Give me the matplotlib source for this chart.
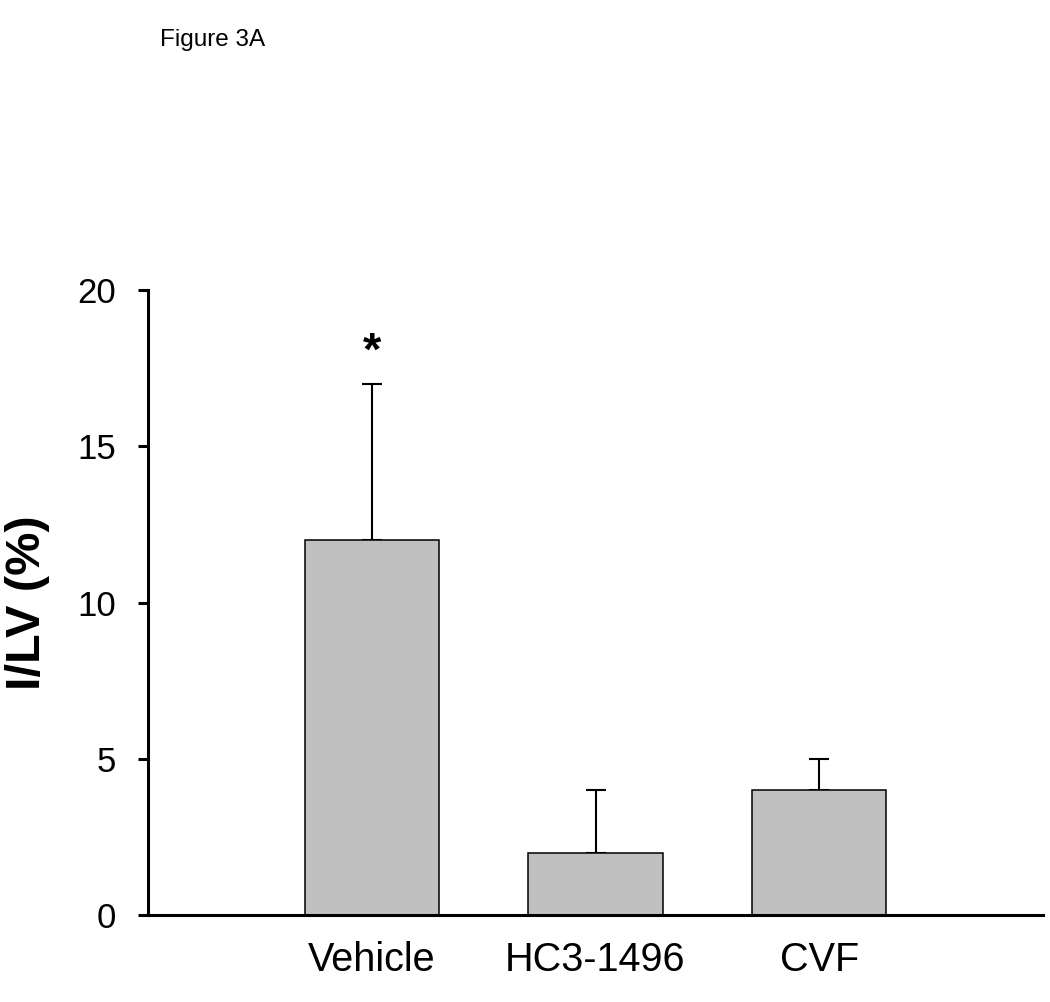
import matplotlib
matplotlib.use("Agg")
import matplotlib.pyplot as plt

plt.rcParams['font.family'] = ['Liberation Sans', 'DejaVu Sans']

categories = ["Vehicle", "HC3-1496", "CVF"]
means = [12, 2, 4]
sem_upper = [5, 2, 1]
yticks = [0, 5, 10, 15, 20]
star_label = "*"
star_value = 18.0

fig = plt.figure(figsize=(10.5, 10.02), dpi=100)
ax = fig.add_axes([148/1050, 87/1002, (1043-148)/1050, (915-290)/1002])

x = [1, 2, 3]
ax.bar(x, means, width=0.6, color="#c0c0c0", edgecolor="black", linewidth=1.1, zorder=2)
ax.errorbar(x, means, yerr=[[0]*len(means), sem_upper], fmt="none", ecolor="black",
            elinewidth=1.5, capsize=7.2, capthick=1.5, zorder=1)

ax.text(x[0], star_value, star_label, ha="center", va="center", fontsize=34, fontweight="bold")

ax.set_xlim(0, 4)
ax.set_ylim(0, 20)
ax.set_xticks(x)
ax.set_xticklabels(categories, fontsize=28.5)
ax.set_yticks(yticks)
ax.set_yticklabels([str(v) for v in yticks], fontsize=25)
ax.tick_params(axis="x", length=0, pad=19)
ax.tick_params(axis="y", direction="out", length=7, width=2.2, pad=16)

for s in ["top", "right"]:
    ax.spines[s].set_visible(False)
for s in ["left", "bottom"]:
    ax.spines[s].set_linewidth(2.2)

ax.set_ylabel("I/LV (%)", fontsize=35, fontweight="bold", labelpad=20)

fig.text(160/1050, 1 - 40/1002, "Figure 3A", fontsize=17.5, ha="left", va="center")

fig.savefig("out.png", dpi=100)
